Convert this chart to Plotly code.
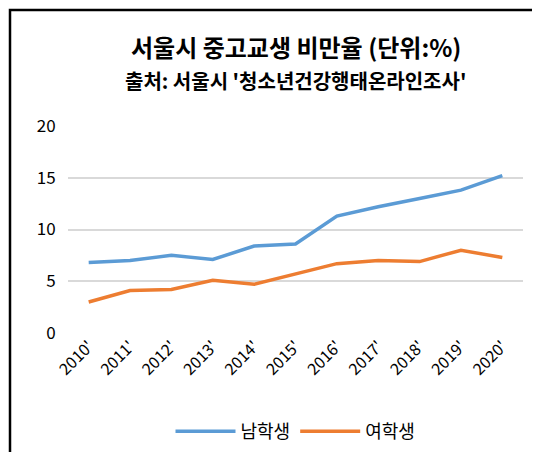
import plotly.graph_objects as go

years = ["2010'", "2011'", "2012'", "2013'", "2014'", "2015'", "2016'", "2017'", "2018'", "2019'", "2020'"]
male = [6.8, 7.0, 7.5, 7.1, 8.4, 8.6, 11.3, 12.2, 13.0, 13.8, 15.2]
female = [3.0, 4.1, 4.2, 5.1, 4.7, 5.7, 6.7, 7.0, 6.9, 8.0, 7.3]

W, H = 540, 452
L, R, T, B = 60, 25, 118, 127
pw, ph = W - L - R, H - T - B
font = "Noto Sans CJK KR"

fig = go.Figure()
fig.add_trace(go.Scatter(x=years, y=male, name="남학생", mode="lines",
                         line=dict(color="#5B9BD5", width=3.5)))
fig.add_trace(go.Scatter(x=years, y=female, name="여학생", mode="lines",
                         line=dict(color="#ED7D31", width=3.5)))
fig.update_layout(
    width=W, height=H, autosize=False, margin=dict(l=L, r=R, t=T, b=B, autoexpand=False),
    paper_bgcolor="white", plot_bgcolor="white",
    font=dict(family=font, color="#000", size=16),
    showlegend=True,
    legend=dict(orientation="h", x=0.5, xanchor="center", y=-(405 - 325) / ph, yanchor="top",
                font=dict(size=18, family=font), itemwidth=60),
    xaxis=dict(type="category", range=[-0.5, 10.5], tickangle=-45, showgrid=False,
               tickfont=dict(size=16, family=font), ticks="", automargin=False),
    yaxis=dict(range=[0, 20], dtick=5, gridcolor="#D9D9D9", gridwidth=1.5,
               zeroline=False, tickfont=dict(size=17, family=font), ticksuffix="   ",
               automargin=False),
    annotations=[
        dict(text="<b>서울시 중고교생 비만율 (단위:%)</b>", x=0.5, xref="paper",
             y=1 + (T - 38) / ph, yref="paper", yanchor="middle", showarrow=False,
             font=dict(size=24, family=font)),
        dict(text="<b>출처: 서울시 '청소년건강행태온라인조사'</b>", x=0.5, xref="paper",
             y=1 + (T - 73) / ph, yref="paper", yanchor="middle", showarrow=False,
             font=dict(size=20, family=font)),
    ],
    shapes=[dict(type="rect", xref="paper", yref="paper",
                 x0=(-L + 2) / pw, x1=1 + (R - 2) / pw,
                 y0=(-B + 2) / ph, y1=1 + (T - 2) / ph,
                 line=dict(color="black", width=2.5))],
)
fig.write_html("out.html")
